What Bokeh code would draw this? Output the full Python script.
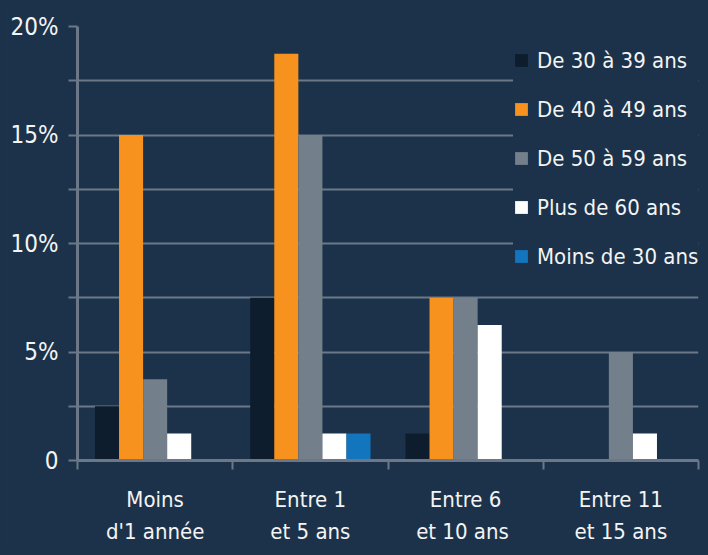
from bokeh.plotting import figure
from bokeh.models import FactorRange, ColumnDataSource, LinearAxis, FixedTicker, Legend
from bokeh.transform import dodge
from bokeh.embed import file_html
from bokeh.resources import INLINE

categories = ["Moins d'1 année", "Entre 1 et 5 ans", "Entre 6 et 10 ans", "Entre 11 et 15 ans"]
cat_labels = ["Moins\nd'1 année", "Entre 1\net 5 ans", "Entre 6\net 10  ans", "Entre 11\net 15 ans"]
series_names = ["De 30 à 39 ans", "De 40 à 49 ans", "De 50 à 59 ans", "Plus de 60 ans", "Moins de 30 ans"]
de_30_39 = [2.5, 7.5, 1.25, 0]
de_40_49 = [15, 18.75, 7.5, 0]
de_50_59 = [3.75, 15, 7.5, 5]
plus_60 = [1.25, 1.25, 6.25, 1.25]
moins_30 = [0, 1.25, 0, 0]
y_ticks = [0, 2.5, 5, 7.5, 10, 12.5, 15, 17.5, 20]
y_labels = ["0", "", "5%", "", "10%", "", "15%", "", "20%"]

BG = "#1b324a"
GRID = "#6c7887"
FONT = "'DejaVu Sans Condensed', Roboto"
TXT = "#f4f4f4"
colors = ["#0e1d2d", "#f7921e", "#737f8b", "#ffffff", "#1375be"]

src = ColumnDataSource(dict(cat=categories, s0=de_30_39, s1=de_40_49, s2=de_50_59, s3=plus_60, s4=moins_30))

p = figure(x_range=FactorRange(*categories, range_padding=0), y_range=(0, 20),
           width=700, height=547, output_backend="svg", toolbar_location=None,
           x_axis_location=None, y_axis_location=None,
           min_border_left=77, min_border_right=2, min_border_top=26, min_border_bottom=82)
p.background_fill_color = BG
p.border_fill_color = BG
p.outline_line_color = None
p.xgrid.visible = False

yt = FixedTicker(ticks=y_ticks)
p.ygrid.ticker = yt
p.ygrid.grid_line_color = GRID
p.ygrid.grid_line_width = 2

yaxis = LinearAxis(ticker=yt)
yaxis.major_label_overrides = {t: l for t, l in zip(y_ticks, y_labels)}
yaxis.axis_line_color = GRID
yaxis.axis_line_width = 3
yaxis.major_tick_line_color = GRID
yaxis.major_tick_line_width = 2
yaxis.major_tick_out = 9
yaxis.major_tick_in = 0
yaxis.minor_tick_line_color = None
yaxis.major_label_standoff = 10
yaxis.major_label_text_font = FONT
yaxis.major_label_text_font_size = "24px"
yaxis.major_label_text_color = TXT
p.add_layout(yaxis, "left")

centers = [i + 0.5 for i in range(len(categories))]
bounds = [float(i) for i in range(len(categories) + 1)]
xt = FixedTicker(ticks=centers, minor_ticks=bounds)
xaxis = LinearAxis(ticker=xt)
xaxis.major_label_overrides = {c: l for c, l in zip(centers, cat_labels)}
xaxis.axis_line_color = GRID
xaxis.axis_line_width = 3
xaxis.major_tick_out = 0
xaxis.major_tick_in = 0
xaxis.major_tick_line_color = None
xaxis.minor_tick_line_color = GRID
xaxis.minor_tick_line_width = 2
xaxis.minor_tick_out = 9
xaxis.minor_tick_in = 0
xaxis.major_label_standoff = 17
xaxis.major_label_text_font = FONT
xaxis.major_label_text_font_size = "22px"
xaxis.major_label_text_color = TXT
xaxis.major_label_text_line_height = 1.3
p.add_layout(xaxis, "below")

w = 0.155
offsets = [-2 * w, -w, 0, w, 2 * w]
items = []
for i, (name, col) in enumerate(zip(series_names, colors)):
    r = p.vbar(x=dodge("cat", offsets[i], range=p.x_range), top="s%d" % i, width=w,
               source=src, fill_color=col, line_color=None)
    items.append((name, [r]))

legend = Legend(items=items, location=(436, 189))
legend.background_fill_color = BG
legend.background_fill_alpha = 1
legend.border_line_color = None
legend.padding = 10
legend.margin = 0
legend.spacing = 19
legend.label_height = 30
legend.glyph_height = 16
legend.glyph_width = 16
legend.label_standoff = 8
legend.label_text_font = FONT
legend.label_text_font_size = "22px"
legend.label_text_color = TXT
p.add_layout(legend, "center")

html = file_html(p, INLINE)
html = html.replace("</head>", "<style>html,body{background:%s;}</style></head>" % BG, 1)
open("out.html", "w").write(html)
